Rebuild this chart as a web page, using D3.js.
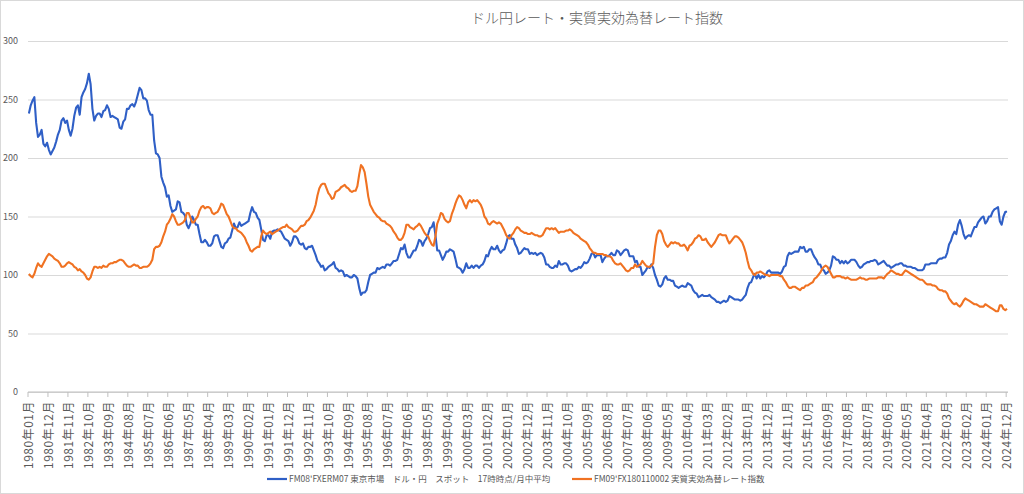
<!DOCTYPE html>
<html>
<head>
    <meta charset="utf-8">
    <style>
        body { margin: 0; background: #fff; }
        text { font-family: "Noto Sans CJK JP", "Noto Sans", sans-serif; fill: #595959; }
    </style>
    <script src="https://d3js.org/d3.v7.min.js"></script>
</head>
<body>
    <svg width="1024" height="494"></svg>
    <script>

        // 月次データ 1980年01月〜2024年12月
        var startYear = 1980, endYear = 2024;
        var months = [];
        for (var yr = startYear; yr <= endYear; yr++) {
            for (var mo = 1; mo <= 12; mo++) {
                months.push(yr + "年" + (mo < 10 ? "0" + mo : mo) + "月");
            }
        }

        // 目盛りの値
        var yTicks = [0, 50, 100, 150, 200, 250, 300];
        var labelStep = 11; // 11か月ごとにラベル
        var tickLabels = months.filter(function(d, i) { return i % labelStep === 0; });

        var seriesNames = [
            "FM08'FXERM07 東京市場　ドル・円　スポット　17時時点/月中平均",
            "FM09'FX180110002 実質実効為替レート指数"
        ];

        // ドル円 (円/ドル)
        var usdJpy = [
            238, 245, 249, 252, 230, 218, 220, 224, 212, 210, 213, 207, // 1980
            203, 206, 209, 214, 220, 224, 232, 234, 230, 232, 224, 219, // 1981
            225, 236, 243, 245, 237, 252, 256, 259, 264, 272, 263, 242, // 1982
            232, 236, 238, 238, 235, 240, 241, 245, 242, 235, 236, 235, // 1983
            234, 233, 226, 225, 231, 233, 242, 242, 245, 246, 244, 248, // 1984
            254, 260, 258, 251, 251, 249, 241, 237, 237, 215, 204, 203, // 1985
            200, 184, 179, 175, 167, 168, 159, 154, 155, 156, 163, 162, // 1986
            154, 153, 151, 143, 140, 144, 150, 147, 143, 143, 135, 128, // 1987
            128, 130, 128, 125, 125, 127, 133, 134, 134, 129, 124, 123, // 1988
            127, 128, 131, 132, 138, 144, 140, 141, 145, 142, 143, 144, // 1989
            145, 146, 153, 158, 154, 153, 149, 147, 139, 130, 129, 134, // 1990
            134, 131, 137, 138, 138, 139, 138, 137, 134, 131, 130, 129, // 1991
            125, 128, 133, 133, 131, 127, 126, 127, 123, 122, 124, 124, // 1992
            125, 121, 117, 112, 110, 107, 108, 104, 105, 107, 108, 109, // 1993
            111, 106, 105, 103, 104, 103, 99, 100, 99, 98, 98, 100,     // 1994
            99, 97, 89, 83, 85, 85, 87, 94, 100, 101, 102, 102,         // 1995
            106, 105, 106, 107, 106, 109, 109, 108, 110, 112, 112, 113, // 1996
            118, 123, 122, 126, 119, 115, 115, 118, 121, 121, 125, 130, // 1997
            129, 125, 129, 131, 135, 140, 141, 145, 134, 121, 121, 117, // 1998
            113, 116, 120, 120, 122, 121, 120, 114, 107, 106, 105, 102, // 1999
            105, 110, 106, 106, 108, 106, 108, 108, 106, 108, 109, 112, // 2000
            117, 116, 121, 124, 122, 122, 125, 121, 119, 121, 122, 127, // 2001
            133, 134, 131, 131, 126, 123, 118, 119, 121, 123, 122, 122, // 2002
            118, 119, 118, 119, 117, 118, 119, 118, 115, 109, 109, 107, // 2003
            106, 106, 108, 107, 112, 109, 109, 110, 110, 108, 104, 103, // 2004
            104, 105, 105, 107, 106, 108, 111, 110, 111, 114, 118, 119, // 2005
            115, 117, 117, 117, 111, 114, 116, 116, 117, 119, 117, 117, // 2006
            121, 120, 117, 119, 121, 122, 121, 116, 116, 116, 111, 112, // 2007
            107, 107, 100, 102, 104, 107, 106, 109, 106, 100, 96, 91,   // 2008
            90, 92, 97, 99, 96, 96, 95, 95, 91, 90, 89, 90,             // 2009
            91, 90, 90, 93, 92, 91, 87, 85, 84, 81, 82, 83,             // 2010
            82, 82, 82, 83, 81, 80, 79, 77, 77, 76, 77, 78,             // 2011
            77, 78, 82, 81, 80, 79, 79, 79, 78, 79, 81, 83,             // 2012
            89, 93, 94, 98, 101, 97, 100, 97, 99, 98, 100, 103,         // 2013
            104, 102, 102, 102, 102, 102, 101, 103, 107, 108, 116, 119, // 2014
            118, 119, 120, 120, 120, 124, 123, 124, 120, 120, 122, 122, // 2015
            118, 115, 113, 109, 109, 105, 104, 101, 102, 104, 108, 116, // 2016
            115, 113, 113, 110, 112, 110, 112, 110, 111, 113, 113, 113, // 2017
            111, 108, 106, 107, 109, 110, 111, 111, 112, 112, 113, 112, // 2018
            109, 110, 111, 112, 110, 108, 108, 106, 107, 108, 109, 109, // 2019
            110, 110, 108, 108, 107, 107, 107, 106, 106, 105, 104, 104, // 2020
            104, 105, 109, 109, 109, 110, 110, 110, 110, 113, 114, 114, // 2021
            115, 115, 119, 126, 129, 134, 137, 135, 143, 147, 142, 135, // 2022
            131, 133, 134, 133, 137, 141, 141, 145, 147, 149, 150, 144, // 2023
            146, 150, 150, 154, 156, 157, 158, 146, 143, 150, 154, 154  // 2024
        ];

        // 実質実効為替レート指数
        var reer = [
            101, 99, 98, 101, 106, 110, 108, 107, 110, 113, 116, 118,   // 1980
            117, 116, 114, 113, 112, 110, 107, 107, 108, 110, 111, 110, // 1981
            109, 107, 106, 104, 105, 103, 102, 100, 97, 96, 98, 103,    // 1982
            107, 107, 106, 107, 106, 108, 107, 107, 109, 110, 110, 111, // 1983
            111, 112, 113, 113, 112, 110, 108, 107, 107, 108, 109, 108, // 1984
            108, 106, 106, 107, 107, 107, 108, 110, 113, 122, 124, 124, // 1985
            125, 128, 133, 137, 143, 145, 148, 152, 150, 146, 143, 143, // 1986
            144, 145, 147, 153, 153, 149, 145, 145, 148, 150, 155, 158, // 1987
            159, 157, 158, 158, 157, 153, 152, 153, 154, 157, 161, 160, // 1988
            156, 152, 150, 146, 142, 140, 140, 138, 137, 136, 134, 132, // 1989
            128, 125, 121, 120, 122, 123, 124, 124, 133, 138, 136, 135, // 1990
            136, 137, 135, 136, 137, 138, 139, 140, 141, 141, 143, 141, // 1991
            140, 139, 137, 137, 138, 140, 142, 142, 143, 146, 147, 149, // 1992
            152, 155, 160, 168, 174, 177, 178, 178, 174, 170, 168, 165, // 1993
            166, 171, 172, 173, 175, 176, 177, 175, 174, 172, 171, 172, // 1994
            172, 176, 186, 194, 192, 188, 178, 167, 160, 157, 154, 152, // 1995
            150, 149, 147, 146, 146, 144, 143, 142, 140, 137, 135, 132, // 1996
            130, 130, 132, 136, 143, 143, 141, 140, 139, 141, 142, 144, // 1997
            142, 139, 136, 134, 133, 129, 126, 125, 133, 144, 148, 153, // 1998
            152, 148, 146, 145, 146, 152, 156, 161, 165, 168, 167, 164, // 1999
            160, 157, 162, 164, 162, 164, 163, 164, 162, 160, 156, 150, // 2000
            148, 144, 143, 145, 146, 145, 144, 145, 144, 141, 138, 134, // 2001
            132, 131, 134, 136, 139, 141, 140, 138, 137, 136, 136, 135, // 2002
            135, 136, 135, 134, 134, 133, 133, 134, 137, 140, 140, 139, // 2003
            140, 139, 140, 138, 136, 137, 137, 137, 138, 138, 139, 138, // 2004
            136, 135, 134, 133, 131, 130, 129, 128, 126, 123, 121, 119, // 2005
            119, 118, 118, 118, 118, 117, 117, 116, 116, 115, 112, 110, // 2006
            109, 109, 110, 108, 106, 104, 103, 104, 106, 106, 109, 107, // 2007
            108, 109, 112, 110, 108, 107, 107, 108, 110, 124, 134, 138, // 2008
            138, 135, 129, 126, 124, 126, 128, 127, 128, 127, 127, 125, // 2009
            125, 126, 124, 121, 125, 126, 128, 131, 132, 134, 133, 130, // 2010
            130, 131, 128, 126, 124, 126, 128, 131, 134, 135, 134, 134, // 2011
            134, 130, 127, 129, 131, 133, 133, 132, 130, 128, 124, 119, // 2012
            112, 106, 104, 101, 100, 102, 102, 103, 102, 101, 100, 100, // 2013
            99, 100, 100, 100, 100, 100, 99, 99, 96, 94, 91, 89,        // 2014
            89, 90, 90, 89, 88, 87, 89, 89, 91, 91, 92, 93,             // 2015
            94, 97, 98, 100, 102, 105, 107, 108, 107, 104, 101, 98,     // 2016
            98, 99, 99, 99, 98, 98, 97, 98, 97, 96, 96, 96,             // 2017
            96, 97, 98, 97, 97, 96, 96, 97, 97, 97, 97, 97,             // 2018
            98, 98, 98, 97, 99, 101, 102, 104, 103, 102, 101, 101,      // 2019
            100, 100, 102, 104, 103, 102, 101, 100, 99, 98, 97, 96,     // 2020
            96, 95, 93, 92, 92, 92, 91, 91, 90, 88, 87, 87,             // 2021
            86, 86, 84, 80, 78, 76, 75, 76, 74, 73, 75, 78,             // 2022
            80, 79, 78, 77, 76, 75, 75, 74, 73, 73, 73, 75,             // 2023
            74, 73, 72, 71, 70, 69, 69, 74, 74, 71, 70, 71              // 2024
        ];

        var colors = ["#2f5fc6", "#f07222"];

        var svg = d3.select("svg");
        var width = +svg.attr("width");
        var height = +svg.attr("height");

        // 外枠
        svg.append("rect")
            .attr("x", 0.5).attr("y", 0.5)
            .attr("width", width - 1).attr("height", height - 1)
            .attr("fill", "#fff")
            .attr("stroke", "#d9d9d9");

        var plotLeft = 28, plotRight = 1008, plotTop = 41, plotBottom = 392;

        var x = d3.scaleBand().domain(months).range([plotLeft, plotRight]).paddingInner(0).paddingOuter(0);
        var y = d3.scaleLinear().domain([0, 300]).range([plotBottom, plotTop]);
        var bw = x.bandwidth();

        // タイトル
        svg.append("text")
            .attr("x", 597).attr("y", 23)
            .attr("text-anchor", "middle")
            .style("font-size", "14px")
            .style("font-weight", 300)
            .attr("fill", "#666")
            .text("ドル円レート・実質実効為替レート指数");

        // y軸とグリッド線
        var yAxis = svg.append("g")
            .attr("transform", "translate(" + plotLeft + ",0)")
            .call(d3.axisLeft(y).tickValues(yTicks).tickSize(-(plotRight - plotLeft)).tickPadding(10));
        yAxis.select(".domain").remove();
        yAxis.selectAll(".tick line").attr("stroke", "#d9d9d9");
        yAxis.selectAll(".tick text").style("font-size", "9px").attr("fill", "#595959");

        // x軸 (ラベルは11か月ごと)
        var xAxis = svg.append("g")
            .attr("transform", "translate(0," + plotBottom + ")")
            .call(d3.axisBottom(x).tickValues(tickLabels).tickSize(0).tickSizeOuter(0).tickPadding(0));
        xAxis.select(".domain").attr("stroke", "#bfbfbf").attr("d", "M" + plotLeft + ",0H" + plotRight);
        xAxis.selectAll(".tick text")
            .style("font-size", "12px")
            .style("letter-spacing", "0.5px")
            .attr("fill", "#595959")
            .attr("transform", "rotate(-90)")
            .attr("text-anchor", "end")
            .attr("x", -9)
            .attr("y", 0)
            .attr("dy", "0.35em");

        // 目盛り線 (区切り位置)
        xAxis.selectAll(".sep")
            .data(tickLabels)
            .enter().append("line")
            .attr("class", "sep")
            .attr("x1", function(d) { return x(d); })
            .attr("x2", function(d) { return x(d); })
            .attr("y1", 0).attr("y2", 5)
            .attr("stroke", "#bfbfbf");

        // 折れ線
        var line = d3.line()
            .x(function(d) { return x(d.m) + bw / 2; })
            .y(function(d) { return y(d.v); });

        [usdJpy, reer].forEach(function(vals, k) {
            var pts = months.map(function(m, i) { return { m: m, v: vals[i] }; });
            svg.append("path")
                .datum(pts)
                .attr("fill", "none")
                .attr("stroke", colors[k])
                .attr("stroke-width", 2.1)
                .attr("stroke-linejoin", "round")
                .attr("d", line);
        });

        // 凡例
        var legendX = [267, 572];
        var legend = svg.selectAll(".legend")
            .data(seriesNames)
            .enter().append("g")
            .attr("class", "legend")
            .attr("transform", function(d, i) { return "translate(" + legendX[i] + ",479)"; });
        legend.append("line")
            .attr("x1", 0).attr("x2", 20)
            .attr("stroke", function(d, i) { return colors[i]; })
            .attr("stroke-width", 2.2);
        legend.append("text")
            .attr("x", 22).attr("dy", "0.35em")
            .style("font-size", "8.5px")
            .text(function(d) { return d; });

    </script>
</body>
</html>
